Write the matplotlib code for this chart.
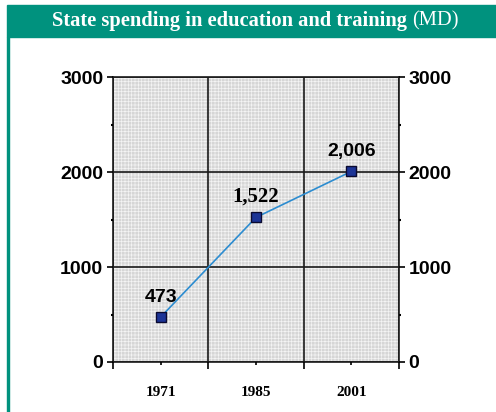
import matplotlib
matplotlib.use("Agg")
import matplotlib.pyplot as plt
from matplotlib.patches import Rectangle

years = ["1971", "1985", "2001"]
spending = [473, 1522, 2006]
labels = ["473", "1,522", "2,006"]
label_fonts = ["Liberation Sans", "Liberation Serif", "Liberation Sans"]

teal = "#00927e"
plt.rcParams["hatch.linewidth"] = 0.5

fig = plt.figure(figsize=(4.96, 4.12), dpi=100)
fig.patch.set_facecolor("white")

# banner + left border line
fig.patches.append(Rectangle((7 / 496, 1 - 37 / 412), 1, 32 / 412,
                             transform=fig.transFigure, color=teal, zorder=0))
fig.patches.append(Rectangle((7 / 496, 0), 2 / 496, 1 - 37 / 412,
                             transform=fig.transFigure, color=teal, zorder=0))

# title: bold part + normal part
t1 = fig.text(0, 1 - 21 / 412, "State spending in education and training ",
              color="white", fontsize=14.8, fontweight="bold",
              family="Liberation Serif", va="center", ha="left")
t2 = fig.text(0, 1 - 21 / 412, "(MD)", color="white", fontsize=14.8,
              family="Liberation Serif", va="center", ha="left")
r = fig.canvas.get_renderer()
w1 = t1.get_window_extent(r).width
w2 = t2.get_window_extent(r).width
x0 = 255 - (w1 + w2) / 2
t1.set_x(x0 / 496)
t2.set_x((x0 + w1) / 496)

ax = fig.add_axes([113 / 496, 1 - 362 / 412, 286 / 496, 285 / 412])
ax.set_facecolor("#d6d6d6")
ax.add_patch(Rectangle((0, 0), 1, 1, transform=ax.transAxes, facecolor="#d6d6d6",
                       edgecolor="#f4f4f4", hatch="+++++", lw=0, zorder=0))

xs = [i + 0.5 for i in range(len(years))]
ax.plot(xs, spending, color="#2c8cd0", lw=1.2, zorder=3)
ax.plot(xs, spending, ls="none", marker="s", ms=7.5, mfc="#1c3496",
        mec="#0a0a30", mew=1, zorder=4)

for x, v, lab, fam in zip(xs, spending, labels, label_fonts):
    size = 15 if fam == "Liberation Serif" else 14
    ax.annotate(lab, (x, v), xytext=(0, 8), textcoords="offset points",
                ha="center", va="bottom", fontsize=size, fontweight="bold",
                family=fam, color="black", zorder=5)

ax.set_xlim(0, 3)
ax.set_ylim(0, 3000)
ax.set_xticks([0, 1, 2, 3])
ax.set_xticklabels([])
ax.set_xticks(xs, minor=True)
ax.set_xticklabels(years, minor=True, fontsize=11, fontweight="bold",
                   family="Liberation Serif")
ax.tick_params(axis="x", which="major", length=5, width=1.2, direction="out")
ax.tick_params(axis="x", which="minor", length=2.5, width=1.2, pad=15)

ax.set_yticks([0, 1000, 2000, 3000])
ax.set_yticks([500, 1500, 2500], minor=True)
ax.set_yticklabels(["0", "1000", "2000", "3000"], fontsize=14, fontweight="bold",
                   family="Liberation Sans")
ax.tick_params(axis="y", which="major", length=4, width=1.2, pad=3,
               left=True, right=True, labelleft=True, labelright=True)
ax.tick_params(axis="y", which="minor", length=1.5, width=1.5,
               left=True, right=True)

ax.grid(True, which="major", color="#1a1a1a", lw=1.2, zorder=2)
ax.set_axisbelow(False)
for s in ax.spines.values():
    s.set_color("#1a1a1a")
    s.set_linewidth(1.2)

fig.savefig("out.png", dpi=100)
